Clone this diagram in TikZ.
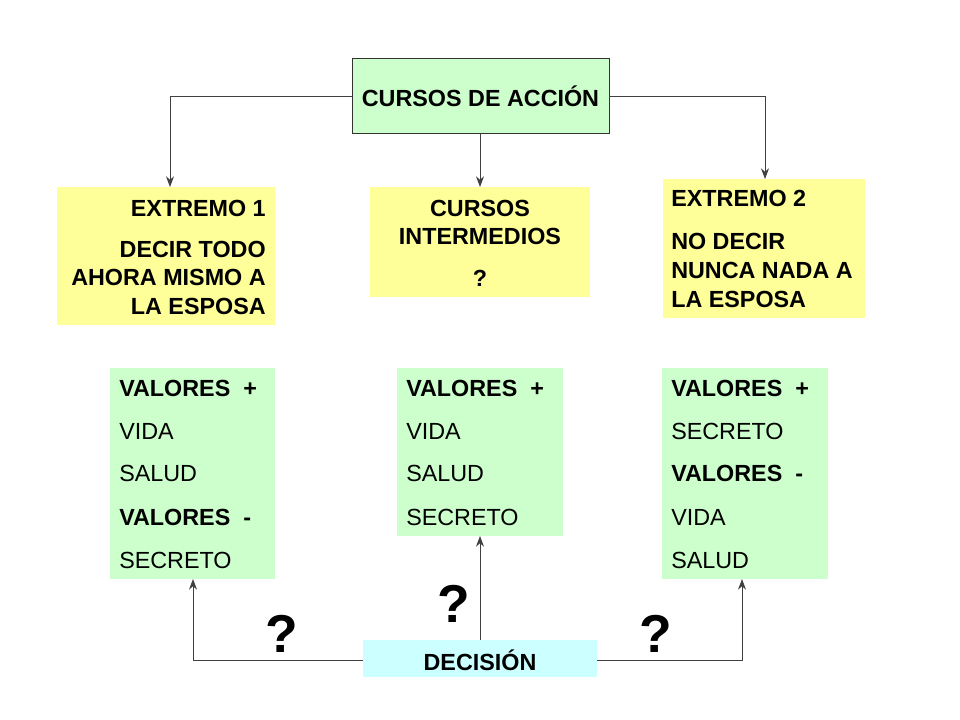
\documentclass[tikz,border=0pt]{standalone}
\usepackage{fontspec}
\setmainfont{Liberation Sans}
\usetikzlibrary{arrows.meta}
\definecolor{verde}{HTML}{CCFFCC}
\definecolor{amarillo}{HTML}{FFFF99}
\definecolor{celeste}{HTML}{CCFFFF}
\begin{document}
\begin{tikzpicture}[x=0.75pt,y=-0.75pt,
                caja/.style={inner sep=0pt, outer sep=0pt},
                txt/.style={inner sep=0pt, font=\fontsize{17.5}{19}\selectfont},
                negrita/.style={txt, font=\fontsize{17.5}{19}\selectfont\bfseries},
                flecha/.style={-{Stealth[length=8pt,width=6pt]}, draw=black!75, line width=0.7pt},
                preg/.style={inner sep=0pt, font=\fontsize{40}{42}\selectfont\bfseries},
              ]
  \useasboundingbox (0,0) rectangle (960,720);
  % cajas
  \draw[fill=verde, draw=black!80] (352,58) rectangle (609,133);
  \path[fill=amarillo] (57,187) rectangle (275,325);
  \path[fill=amarillo] (370,187) rectangle (590,297);
  \path[fill=amarillo] (663,179) rectangle (865,318);
  \path[fill=verde] (110,368) rectangle (275,579);
  \path[fill=verde] (397,368) rectangle (563,536);
  \path[fill=verde] (662,368) rectangle (828,579);
  \path[fill=celeste] (363,640) rectangle (597,677);
  \node[negrita] (cursos) at (480.5,96) {CURSOS DE ACCIÓN};
  % extremo 1
  \foreach \y/\t in {208/EXTREMO 1,249/DECIR TODO,277/AHORA MISMO A,306/LA ESPOSA}
    \node[negrita, anchor=east] at (266,\y) {\t};
  % intermedios
  \foreach \y/\t in {208/CURSOS,236/INTERMEDIOS,278/?}
    \node[negrita] at (480,\y) {\t};
  % extremo 2
  \foreach \y/\t in {198/EXTREMO 2,241/NO DECIR,270/NUNCA NADA A,299/LA ESPOSA}
    \node[negrita, anchor=west] at (671,\y) {\t};
  % valores
  \node[negrita, anchor=west] at (119,388) {VALORES\ \ +};
  \node[txt, anchor=west] at (119,431) {VIDA};
  \node[txt, anchor=west] at (119,473) {SALUD};
  \node[negrita, anchor=west] at (119,517) {VALORES\ \ -};
  \node[txt, anchor=west] at (119,560) {SECRETO};
  \node[negrita, anchor=west] at (406,388) {VALORES\ \ +};
  \node[txt, anchor=west] at (406,431) {VIDA};
  \node[txt, anchor=west] at (406,473) {SALUD};
  \node[txt, anchor=west] at (406,517) {SECRETO};
  \node[negrita, anchor=west] at (671,388) {VALORES\ \ +};
  \node[txt, anchor=west] at (671,431) {SECRETO};
  \node[negrita, anchor=west] at (671,473) {VALORES\ \ -};
  \node[txt, anchor=west] at (671,517) {VIDA};
  \node[txt, anchor=west] at (671,560) {SALUD};
  \node[negrita] (dec) at (480,660) {DECISIÓN};
  % conectores
  \coordinate (e1) at (170,187);
  \coordinate (e2) at (765,179);
  \coordinate (im) at (480,187);
  \coordinate (v1) at (193,579);
  \coordinate (v2) at (480,536);
  \coordinate (v3) at (742,579);
  \draw[flecha] (352,96) -| (e1);
  \draw[flecha] (609,96) -| (e2);
  \draw[flecha] (480,133) -- (im);
  \draw[flecha] (363,660) -| (v1);
  \draw[flecha] (597,660) -| (v3);
  \draw[flecha] (480,640) -- (v2);
  % preguntas
  \node[preg] (p1) at (282,634) {?};
  \node[preg] (p2) at (454,604) {?};
  \node[preg] (p3) at (656,634) {?};
\end{tikzpicture}
\end{document}
